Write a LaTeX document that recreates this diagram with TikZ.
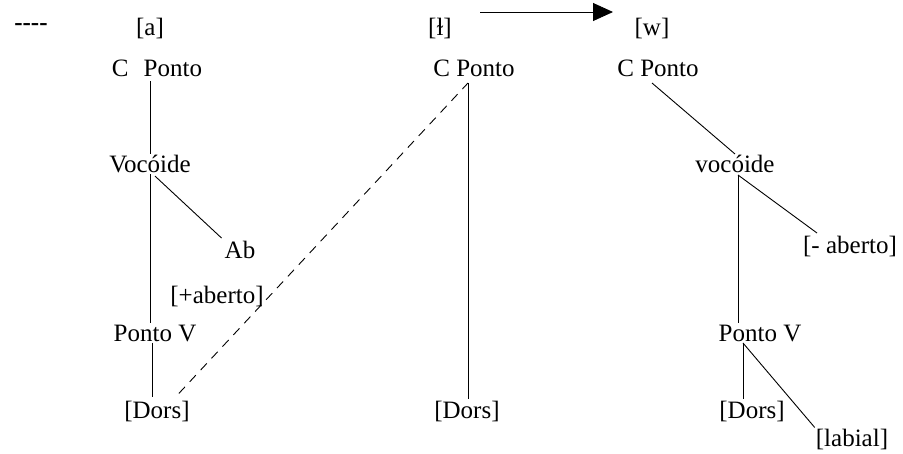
\documentclass[tikz,border=0pt]{standalone}
\usepackage{fontspec}
\setmainfont{Liberation Serif}
\usetikzlibrary{arrows.meta,calc,positioning}
\tikzset{
	x=1pt, y=-1pt,
	lbl/.style = {
			inner sep = 1pt,
			font      = \fontsize{25}{29}\selectfont,
		},
	branch/.style = {draw=black, line width=0.9pt},
	link/.style = {draw=black, line width=0.9pt, dash pattern=on 9pt off 7pt},
}

\begin{document}
\begin{tikzpicture}
	\useasboundingbox (0,0) rectangle (903,453);

	\node[lbl, font=\fontsize{25}{29}\selectfont\bfseries] at (31,27) (dashes) {-{}-{}-{}-};

	% [a]
	\node[lbl] at (150,28) (segA) {[a]};
	\node[lbl] at (157,68) (cpA) {C\hspace{0.6em}Ponto};
	\node[lbl] at (150,164) (vocA) {Voc\'oide};
	\node[lbl] at (240,250) (abA) {Ab};
	\node[lbl] at (217,296) (abertoA) {[+aberto]};
	\node[lbl] at (155,333) (pvA) {Ponto V};
	\node[lbl] at (157,411) (dorsA) {[Dors]};

	\draw[branch] (150,81) coordinate (cpAb) -- (vocA.north -| cpAb);
	\draw[branch] (vocA.south) -- (vocA.south |- pvA.north);
	\draw[branch] ($(vocA.south)+(5,2)$) -- ($(abA.north west)+(-2,-2)$);
	\draw[branch] ($(pvA.south)+(-3,0)$) -- ($(dorsA.north)+(-5,-2)$);

	% [l]
	\node[lbl] at (440,28) (segL) {[ɫ]};
	\node[lbl] at (474,68) (cpL) {C Ponto};
	\node[lbl] at (467,411) (dorsL) {[Dors]};

	\draw[branch] (468,83) coordinate (cpLb) -- (dorsL.north -| cpLb);
	\draw[link] ($(dorsA.north east)+(-12,-6)$) -- (cpLb);

	\coordinate (arrS) at (480,12);
	\coordinate (arrE) at (613,12);
	\draw[branch, -{Triangle[length=20pt,width=18pt]}] (arrS) -- (arrE);

	% [w]
	\node[lbl] at (652,28) (segW) {[w]};
	\node[lbl] at (658,68) (cpW) {C Ponto};
	\node[lbl] at (735,164) (vocW) {voc\'oide};
	\node[lbl] at (850,246) (abertoW) {[- aberto]};
	\node[lbl] at (760,333) (pvW) {Ponto V};
	\node[lbl] at (752,411) (dorsW) {[Dors]};
	\node[lbl] at (852,439) (labW) {[labial]};

	\draw[branch] (652,83) -- (vocW.north);
	\draw[branch] (738,175) coordinate (vocWb) -- (vocWb |- pvW.north);
	\draw[branch] (vocWb) -- (817,233) coordinate (abWt);
	\draw[branch] (743,343) coordinate (pvWb) -- (pvWb |- dorsW.north);
	\draw[branch] (pvWb) -- (labW.north west);
\end{tikzpicture}
\end{document}
